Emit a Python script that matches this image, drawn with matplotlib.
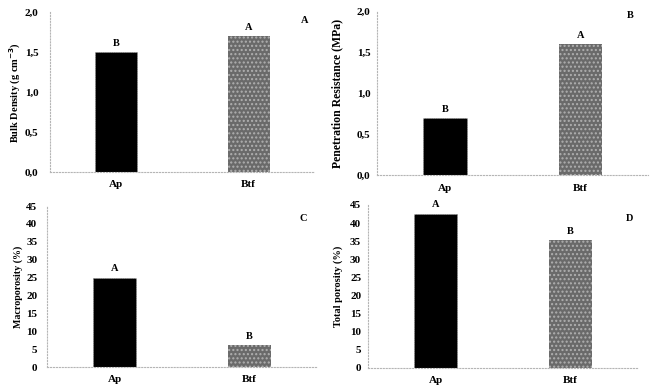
import matplotlib.pyplot as plt

horizons = ["Ap", "Btf"]

bulk_density = [1.5, 1.7]
bulk_letters = ["B", "A"]

pen_resistance = [0.7, 1.6]
pen_letters = ["B", "A"]

macroporosity = [25.0, 6.2]
macro_letters = ["A", "B"]

total_porosity = [42.6, 35.2]
total_letters = ["A", "B"]

plt.rcParams["font.family"] = ["Liberation Serif", "DejaVu Serif"]
plt.rcParams["font.weight"] = "bold"
plt.rcParams["font.size"] = 8

fig = plt.figure(figsize=(6.55, 3.91), dpi=100)

dec_ticks = [0, 0.5, 1.0, 1.5, 2.0]
dec_labels = ["0,0", "0,5", "1,0", "1,5", "2,0"]
pct_ticks = list(range(0, 50, 5))
pct_labels = [str(v) for v in pct_ticks]

panels = [
    # rect, values, letters, ylabel, ylabel size, label x, ymax, ticks, labels, id, id pos, ypad
    ([0.076, 0.560, 0.405, 0.409], bulk_density, bulk_letters,
     "Bulk Density (g cm$^{\\mathbf{-3}}$)", 7.5, -0.102, 2.0,
     dec_ticks, dec_labels, "A", (0.962, 0.95), 8),
    ([0.576, 0.552, 0.413, 0.420], pen_resistance, pen_letters,
     "Penetration Resistance (MPa)", 8.5, -0.125, 2.0,
     dec_ticks, dec_labels, "B", (0.934, 0.975), 5),
    ([0.072, 0.061, 0.412, 0.412], macroporosity, macro_letters,
     "Macroporosity (%)", 7.2, -0.089, 45,
     pct_ticks, pct_labels, "C", (0.948, 0.925), 7),
    ([0.562, 0.059, 0.412, 0.417], total_porosity, total_letters,
     "Total porosity (%)", 7.5, -0.093, 45,
     pct_ticks, pct_labels, "D", (0.967, 0.914), 5),
]

for rect, vals, lets, ylab, ysize, ylx, ymax, ticks, tlabels, pid, ppos, ypad in panels:
    ax = fig.add_axes(rect)
    x = [0, 1]
    ax.bar(x[0], vals[0], width=0.32, color="black", edgecolor="#999999",
           linewidth=0.6, linestyle=":")
    ax.bar(x[1], vals[1], width=0.32, color="#6a6a6a", edgecolor="#b0b0b0",
           hatch="....", linewidth=0.0)
    for xi, v, l in zip(x, vals, lets):
        ax.annotate(l, (xi, v), xytext=(0, 3), textcoords="offset points",
                    ha="center", va="bottom", fontweight="bold", fontsize=7.5)
    ax.set_xlim(-0.5, 1.5)
    ax.set_ylim(0, ymax)
    ax.set_xticks(x)
    ax.set_xticklabels(horizons, fontweight="bold")
    ax.set_yticks(ticks)
    ax.set_yticklabels(tlabels, fontweight="bold")
    ax.tick_params(axis="x", length=0, pad=6)
    ax.tick_params(axis="y", length=0, pad=ypad)
    ax.set_ylabel(ylab, fontweight="bold", fontsize=ysize)
    ax.yaxis.set_label_coords(ylx, 0.5)
    for s in ["top", "right"]:
        ax.spines[s].set_visible(False)
    for s in ["left", "bottom"]:
        ax.spines[s].set_color("#b5b5b5")
        ax.spines[s].set_linestyle(":")
        ax.spines[s].set_linewidth(0.8)
    ax.text(ppos[0], ppos[1], pid, transform=ax.transAxes, ha="center",
            va="center", fontweight="bold", fontsize=7.5)

fig.savefig("out.png", dpi=100)
